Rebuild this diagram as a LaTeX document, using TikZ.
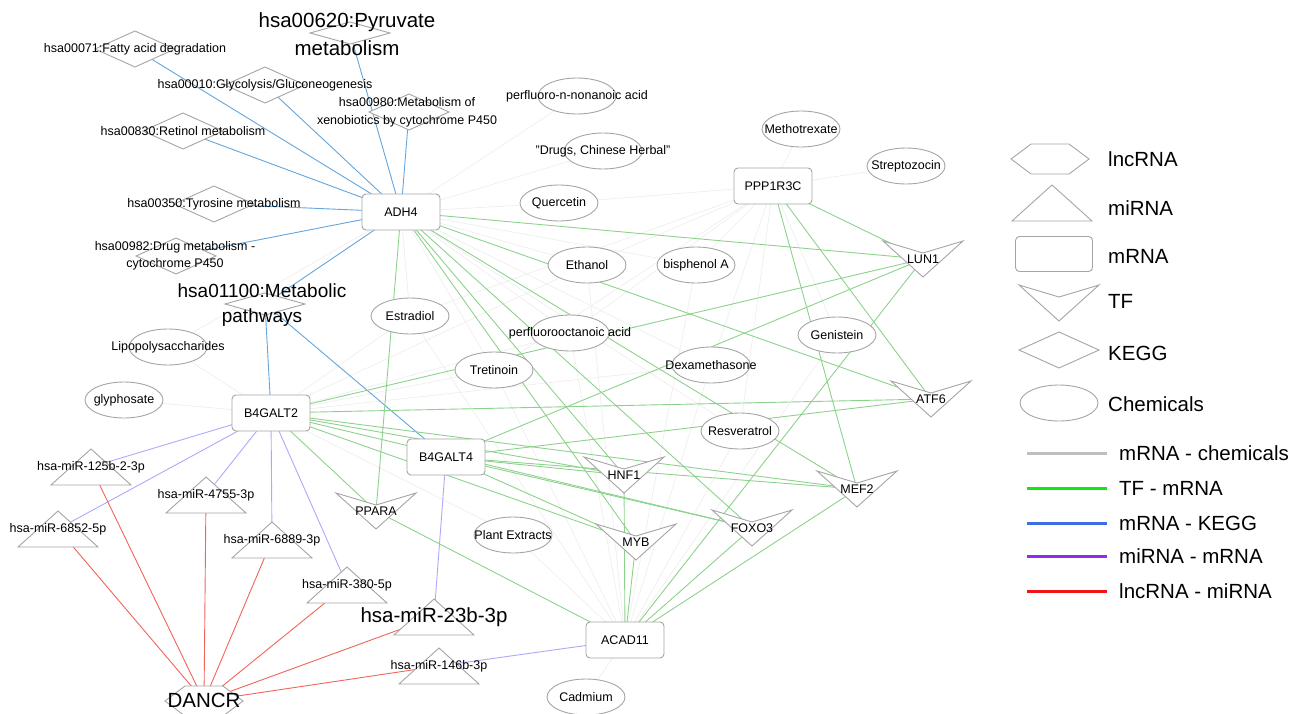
\documentclass[tikz,border=0pt]{standalone}
\usepackage{fontspec}
\setmainfont{Liberation Sans}
\usetikzlibrary{shapes.geometric}
\pgfdeclarelayer{edgelayer}
\pgfsetlayers{edgelayer,main}
\definecolor{shpc}{RGB}{165,165,165}
\definecolor{eblue}{RGB}{100,165,220}
\definecolor{egreen}{RGB}{140,210,140}
\definecolor{epurple}{RGB}{170,170,250}
\definecolor{ered}{RGB}{240,100,90}
\definecolor{egray}{RGB}{238,238,238}
\definecolor{lgray}{RGB}{190,190,190}
\definecolor{lgreen}{RGB}{20,230,20}
\definecolor{lblue}{RGB}{60,110,225}
\definecolor{lpurple}{RGB}{150,40,235}
\definecolor{lred}{RGB}{240,20,20}
\tikzset{
  pt/.style={inner sep=0pt, minimum size=0pt},
  shp/.style={draw=shpc, fill=white, line width=0.9pt},
  lbl/.style={font=\fontsize{12.5}{18}\selectfont, align=center, inner sep=0pt},
  big/.style={font=\fontsize{20.5}{26}\selectfont, align=center, inner sep=0pt},
  leg/.style={font=\fontsize{20.5}{24}\selectfont, anchor=west, inner sep=0pt},
  mrna/.style={shp, rounded corners=4pt, minimum width=78pt, minimum height=36pt, inner sep=0pt, font=\fontsize{12.5}{15}\selectfont},
  chem/.style={shp, ellipse, minimum width=78pt, minimum height=36pt, inner sep=0pt},
  eb/.style={draw=eblue, line width=0.9pt},
  eg/.style={draw=egreen, line width=0.9pt},
  ep/.style={draw=epurple, line width=0.9pt},
  er/.style={draw=ered, line width=0.9pt},
  ey/.style={draw=egray, line width=0.7pt},
}
\newcommand{\tfdraw}[1]{\draw[shp] ([shift={(-40,-18)}]#1.center) -- ([shift={(0,-6)}]#1.center) -- ([shift={(40,-18)}]#1.center) -- ([shift={(0,18)}]#1.center) -- cycle;}
\newcommand{\tridraw}[1]{\draw[shp] ([shift={(0,-18)}]#1.center) -- ([shift={(40,18)}]#1.center) -- ([shift={(-40,18)}]#1.center) -- cycle;}
\newcommand{\diadraw}[3]{\draw[shp] ([shift={(-#2,0)}]#1.center) -- ([shift={(0,-#3)}]#1.center) -- ([shift={(#2,0)}]#1.center) -- ([shift={(0,#3)}]#1.center) -- cycle;}
\newcommand{\hexdraw}[1]{\draw[shp] ([shift={(-39,0)}]#1.center) -- ([shift={(-19,-15)}]#1.center) -- ([shift={(19,-15)}]#1.center) -- ([shift={(39,0)}]#1.center) -- ([shift={(19,15)}]#1.center) -- ([shift={(-19,15)}]#1.center) -- cycle;}
\newcommand{\chemnode}[4]{\node[chem] (#1) at (#2,#3) {}; \node[lbl] (#1-t) at (#1) {#4};}
\newcommand{\tfnode}[4]{\node[pt] (#1) at (#2,#3) {}; \tfdraw{#1} \node[lbl] (#1-t) at (#1) {#4};}
\newcommand{\minode}[4]{\node[pt] (#1) at (#2,#3) {}; \tridraw{#1} \node[lbl] (#1-t) at (#1) {#4};}
\newcommand{\keggnode}[4]{\node[pt] (#1) at (#2,#3) {}; \diadraw{#1}{40}{18} \node[lbl] (#1-t) at (#1) {#4};}
\begin{document}
\begin{tikzpicture}[x=1pt,y=-1pt]
\useasboundingbox (0,0) rectangle (1306,714);
% mRNA
\node[mrna] (adh4) at (401,212) {ADH4};
\node[mrna] (ppp) at (773,186) {PPP1R3C};
\node[mrna] (b2) at (271,413) {B4GALT2};
\node[mrna] (b4) at (446,457) {B4GALT4};
\node[mrna] (acad) at (625,640) {ACAD11};
% KEGG
\node[pt] (k620) at (350,33) {}; \diadraw{k620}{40}{11}
\node[big, font=\fontsize{20.5}{28}\selectfont] (k620-t) at (347,34) {hsa00620:Pyruvate\\metabolism};
\keggnode{k071}{135}{49}{hsa00071:Fatty acid degradation}
\keggnode{k010}{265}{85}{hsa00010:Glycolysis/Gluconeogenesis}
\node[pt] (k980) at (409,112) {}; \diadraw{k980}{40}{18}
\node[lbl] (k980-t) at (407,112) {hsa00980:Metabolism of\\xenobiotics by cytochrome P450};
\keggnode{k830}{183}{131}{hsa00830:Retinol metabolism}
\keggnode{k350}{214}{204}{hsa00350:Tyrosine metabolism}
\node[pt] (k982) at (176,256) {}; \diadraw{k982}{40}{18}
\node[lbl, font=\fontsize{12.5}{17}\selectfont] (k982-t) at (175,256) {hsa00982:Drug metabolism -\\cytochrome P450};
\node[pt] (k1100) at (265,304) {}; \diadraw{k1100}{40}{11}
\node[big, font=\fontsize{19}{25}\selectfont] (k1100-t) at (262,305) {hsa01100:Metabolic\\pathways};
% Chemicals
\chemnode{pfna}{577}{96}{perfluoro-n-nonanoic acid}
\chemnode{dch}{603}{151}{"Drugs, Chinese Herbal"}
\chemnode{quer}{559}{203}{Quercetin}
\chemnode{metho}{801}{129}{Methotrexate}
\chemnode{strep}{906}{166}{Streptozocin}
\chemnode{eth}{587}{265}{Ethanol}
\chemnode{bis}{696}{265}{bisphenol A}
\chemnode{estr}{410}{316}{Estradiol}
\chemnode{pfoa}{570}{333}{perfluorooctanoic acid}
\chemnode{gen}{837}{335}{Genistein}
\chemnode{dex}{711}{365}{Dexamethasone}
\chemnode{tret}{494}{370}{Tretinoin}
\chemnode{resv}{740}{431}{Resveratrol}
\chemnode{lps}{168}{347}{Lipopolysaccharides}
\chemnode{gly}{124}{400}{glyphosate}
\chemnode{plant}{513}{535}{Plant Extracts}
\chemnode{cad}{586}{697}{Cadmium}
% TF
\tfnode{lun1}{923}{259}{LUN1}
\tfnode{atf6}{931}{399}{ATF6}
\tfnode{hnf1}{624}{475}{HNF1}
\tfnode{myb}{636}{542}{MYB}
\tfnode{foxo3}{752}{528}{FOXO3}
\tfnode{mef2}{857}{489}{MEF2}
\tfnode{ppara}{376}{511}{PPARA}
% miRNA
\minode{m125}{91}{467}{hsa-miR-125b-2-3p}
\minode{m4755}{206}{495}{hsa-miR-4755-3p}
\minode{m6852}{58}{529}{hsa-miR-6852-5p}
\minode{m6889}{272}{540}{hsa-miR-6889-3p}
\minode{m380}{347}{585}{hsa-miR-380-5p}
\node[pt] (m23b) at (434,617) {}; \tridraw{m23b}
\node[big] (m23b-t) at (434,617) {hsa-miR-23b-3p};
\minode{m146b}{439}{666}{hsa-miR-146b-3p}
% lncRNA
\node[pt] (dancr) at (204,701) {}; \hexdraw{dancr}
\node[big] (dancr-t) at (204,700) {DANCR};
% edges
\begin{pgfonlayer}{edgelayer}
\foreach \a/\b in {adh4/pfna, adh4/dch, adh4/quer, ppp/quer, ppp/metho, ppp/strep, adh4/eth, ppp/eth, acad/eth, b2/eth, adh4/bis, ppp/bis, acad/bis, adh4/estr, ppp/estr, b2/estr, acad/estr, adh4/pfoa, ppp/pfoa, acad/pfoa, b2/pfoa, ppp/gen, acad/gen, ppp/dex, acad/dex, adh4/dex, b2/dex, adh4/tret, ppp/tret, acad/tret, b2/tret, ppp/resv, acad/resv, adh4/resv, b2/lps, adh4/lps, b2/gly, acad/plant, b2/plant, acad/cad}
  \draw[ey] (\a.center) -- (\b.center);
\foreach \b in {k620, k071, k010, k980, k830, k350, k982, k1100}
  \draw[eb] (adh4.center) -- (\b.center);
\draw[eb] (b2.center) -- (k1100.center);
\draw[eb] (b4.center) -- (k1100.center);
\foreach \a/\b in {adh4/lun1, adh4/atf6, adh4/mef2, adh4/foxo3, adh4/hnf1, adh4/myb, adh4/ppara, ppp/lun1, ppp/atf6, ppp/mef2, b2/lun1, b2/atf6, b2/hnf1, b2/mef2, b2/myb, b2/foxo3, b2/ppara, b4/lun1, b4/atf6, b4/hnf1, b4/mef2, b4/foxo3, b4/myb, acad/lun1, acad/hnf1, acad/myb, acad/foxo3, acad/mef2, acad/ppara}
  \draw[eg] (\a.center) -- (\b.center);
\foreach \b in {m125, m6852, m4755, m6889, m380}
  \draw[ep] (b2.center) -- (\b.center);
\draw[ep] (b4.center) -- (m23b.center);
\draw[ep] (acad.center) -- (m146b.center);
\foreach \b in {m125, m6852, m4755, m6889, m380, m23b, m146b}
  \draw[er] (dancr.center) -- (\b.center);
\end{pgfonlayer}
% legend
\node[pt] (lg-hex) at (1050,159) {}; \hexdraw{lg-hex}
\node[leg] (lg-hex-t) at (1108,159) {lncRNA};
\node[pt] (lg-tri) at (1052,203) {}; \tridraw{lg-tri}
\node[leg] (lg-tri-t) at (1108,208) {miRNA};
\node[mrna, minimum width=77pt, minimum height=35pt] (lg-rect) at (1054,254) {};
\node[leg] (lg-rect-t) at (1108,256) {mRNA};
\node[pt] (lg-tf) at (1059,303) {}; \tfdraw{lg-tf}
\node[leg] (lg-tf-t) at (1108,301) {TF};
\node[pt] (lg-dia) at (1059,350) {}; \diadraw{lg-dia}{40}{18}
\node[leg] (lg-dia-t) at (1108,353) {KEGG};
\node[chem] (lg-ell) at (1059,403) {};
\node[leg] (lg-ell-t) at (1108,404) {Chemicals};
\foreach \yy/\cc/\lab/\nn in {453/lgray/mRNA - chemicals/a, 488/lgreen/TF - mRNA/b, 523/lblue/mRNA - KEGG/c, 556/lpurple/miRNA - mRNA/d, 591/lred/lncRNA - miRNA/e}{
  \coordinate (ls-\nn) at (1027,\yy);
  \coordinate (le-\nn) at (1107,\yy);
  \draw[draw=\cc, line width=3pt] (ls-\nn) -- (le-\nn);
  \node[leg] (lt-\nn) at (1119,\yy) {\lab};
}
\end{tikzpicture}
\end{document}
